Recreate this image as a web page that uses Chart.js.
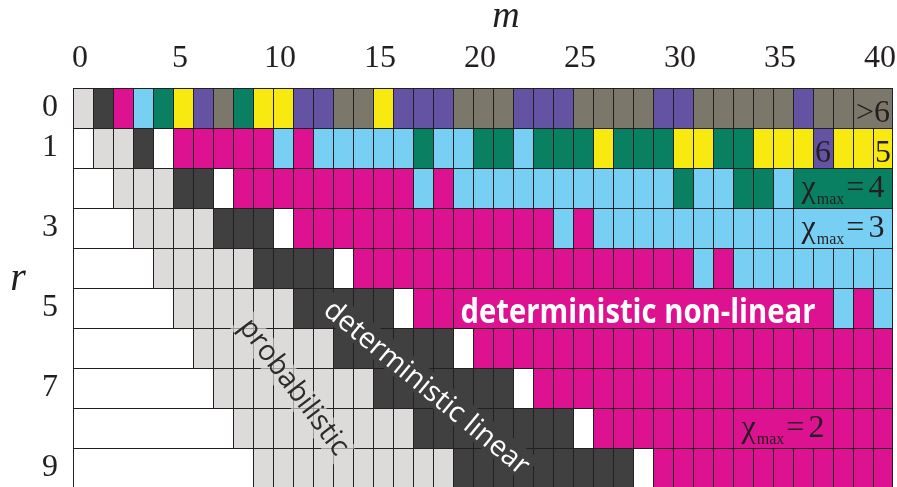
<!DOCTYPE html>
<html>
<head>
<meta charset="utf-8">
<title>Regimes over m and r</title>
<script src="https://cdn.jsdelivr.net/npm/chart.js@4.4.1/dist/chart.umd.min.js"></script>
<style>
  html, body { margin: 0; padding: 0; overflow: hidden; background: #ffffff; }
  canvas { display: block; }
</style>
</head>
<body>
<canvas id="regimeChart" width="897" height="488"></canvas>
<script>
// rows r = 0..9, columns m = 0..40
const rowLabels = ['0', '1', '2', '3', '4', '5', '6', '7', '8', '9'];
const shownRowLabels = ['0', '1', '3', '5', '7', '9'];
const mTicks = [0, 5, 10, 15, 20, 25, 30, 35, 40];

// one letter per cell, in chunks of ten columns
// P probabilistic, L deterministic linear, 2..6 chi_max, X chi_max > 6, W empty
const row0 = 'PL23456X45' + '566XX5666X' + 'XX666XXXX6' + '6XXXXX6XXX' + 'X';
const row1 = 'WPPLW22222' + '3233333433' + '4434445444' + '5544555655' + '5';
const row2 = 'WWPPPLLW22' + '2222222323' + '3333333333' + '4334434444' + '4';
const row3 = 'WWWPPPPLLL' + 'W222222222' + '2222323333' + '3333333333' + '3';
const row4 = 'WWWWPPPPPL' + 'LLLW222222' + '2222222222' + '2323333333' + '3';
const row5 = 'WWWWWPPPPP' + 'PLLLLLW222' + '2222222222' + '2222222232' + '3';
const row6 = 'WWWWWWPPPP' + 'PPPLLLLLLW' + '2222222222' + '2222222222' + '2';
const row7 = 'WWWWWWWPPP' + 'PPPPPLLLLL' + 'LLW2222222' + '2222222222' + '2';
const row8 = 'WWWWWWWWPP' + 'PPPPPPPLLL' + 'LLLLLW2222' + '2222222222' + '2';
const row9 = 'WWWWWWWWWP' + 'PPPPPPPPPL' + 'LLLLLLLLW2' + '2222222222' + '2';
const cellRows = [row0, row1, row2, row3, row4, row5, row6, row7, row8, row9];

const classKeys = ['P', 'L', '2', '3', '4', '5', '6', 'X', 'W'];
const classNames = ['probabilistic', 'deterministic linear', 'χmax = 2', 'χmax = 3',
  'χmax = 4', 'χmax = 5', 'χmax = 6', 'χmax > 6', 'none'];
const classColors = ['#dcdbda', '#404040', '#dd1290', '#78cff4', '#0a8062',
  '#f8ea10', '#6353a2', '#7b786b', '#ffffff'];

// merged / labelled cells
const cellLabels = [
  { r: 0, from: 39, to: 40, kind: 'num', text: '>6' },
  { r: 1, from: 37, to: 37, kind: 'num', text: '6' },
  { r: 1, from: 40, to: 40, kind: 'num', text: '5' },
  { r: 2, from: 36, to: 40, kind: 'chi', text: '4' },
  { r: 3, from: 36, to: 40, kind: 'chi', text: '3' },
  { r: 5, from: 19, to: 37, kind: 'bold', text: 'deterministic non-linear' },
  { r: 8, from: 33, to: 37, kind: 'chi', text: '2' }
];

// split rows into cells, joining empty runs and labelled spans
const segments = [];
cellRows.forEach((codes, r) => {
  let m = 0;
  while (m < codes.length) {
    const lab = cellLabels.find(l => l.r === r && l.from === m);
    let end = m;
    if (lab) end = lab.to;
    else if (codes[m] === 'W') {
      while (end + 1 < codes.length && codes[end + 1] === 'W') end++;
    }
    segments.push({ r, from: m, to: end, key: codes[m] });
    m = end + 1;
  }
});

const datasets = classKeys.map((key, k) => ({
  label: classNames[k],
  data: segments.filter(s => s.key === key).map(s => ({
    x: [s.from - 0.5, s.to + 0.5], y: rowLabels[s.r], last: s.to === 40
  })),
  backgroundColor: classColors[k],
  borderColor: '#231f20',
  borderWidth: c => ({ top: 1, left: 1, bottom: 0, right: c.raw && c.raw.last ? 1 : 0 }),
  borderSkipped: false,
  inflateAmount: 0,
  barPercentage: 1,
  categoryPercentage: 1,
  grouped: false
}));

const SERIF = '"Liberation Serif", "Times New Roman", serif';
const SANS = '"Open Sans", "Noto Sans", sans-serif';

function slanted(ctx, t) {
  ctx.save();
  ctx.translate(t.cx, t.cy);
  ctx.rotate(t.angle * Math.PI / 180);
  ctx.font = t.size + 'px ' + SANS;
  const w = ctx.measureText(t.text).width;
  ctx.fillStyle = t.band;
  ctx.fillRect(-w / 2 - 4, -t.size * 0.5, w + 8, t.size);
  ctx.fillStyle = t.color;
  ctx.textAlign = 'center';
  ctx.textBaseline = 'alphabetic';
  ctx.fillText(t.text, 0, t.size * t.lift);
  ctx.restore();
}

function chiLabel(ctx, cx, base, digit) {
  const parts = [
    { t: 'χ', font: '32px ' + SERIF, dy: 0, gap: 1 },
    { t: 'max', font: '16px ' + SERIF, dy: 7, gap: 2 },
    { t: '=', font: '32px ' + SERIF, dy: 0, gap: 4 },
    { t: digit, font: '32px ' + SERIF, dy: 0, gap: 0 }
  ];
  let total = 0;
  parts.forEach(p => { ctx.font = p.font; p.w = ctx.measureText(p.t).width; total += p.w + p.gap; });
  let xPos = cx - total / 2;
  ctx.textAlign = 'left';
  ctx.textBaseline = 'alphabetic';
  parts.forEach(p => {
    ctx.font = p.font;
    ctx.fillText(p.t, xPos, base + p.dy);
    xPos += p.w + p.gap;
  });
}

const annotate = {
  id: 'annotate',
  afterDatasetsDraw(chart) {
    const { ctx, scales: { x, y } } = chart;
    const px = v => x.getPixelForValue(v);
    const py = v => y.getPixelForValue(v);

    slanted(ctx, { text: 'probabilistic', cx: px(10.5), cy: py(6.99), angle: 53,
      size: 28.5, color: '#2b2b2b', band: 'rgba(220,219,218,0.65)', lift: 0.26 });
    slanted(ctx, { text: 'deterministic linear', cx: px(17.25), cy: py(6.95), angle: 39.5,
      size: 28.5, color: '#ffffff', band: '#404040', lift: 0.38 });

    ctx.save();
    ctx.fillStyle = '#231f20';
    cellLabels.forEach(l => {
      const left = px(l.from - 0.5), right = px(l.to + 0.5), top = py(l.r - 0.5);
      const cx = (left + right) / 2;
      if (l.kind === 'num') {
        ctx.font = '32px ' + SERIF;
        ctx.textAlign = 'center';
        ctx.textBaseline = 'alphabetic';
        ctx.fillText(l.text, cx, top + 34);
      } else if (l.kind === 'chi') {
        chiLabel(ctx, cx, top + 28.5, l.text);
      } else {
        ctx.save();
        ctx.font = 'bold 34px ' + SANS;
        const w = ctx.measureText(l.text).width;
        const target = right - left - 25;
        ctx.translate(cx - 5, top + 34.5);
        ctx.scale(target / w, 1);
        ctx.fillStyle = '#ffffff';
        ctx.textAlign = 'center';
        ctx.textBaseline = 'alphabetic';
        ctx.fillText(l.text, 0, 0);
        ctx.restore();
      }
    });

    // axis titles
    ctx.font = 'italic 38px ' + SERIF;
    ctx.textAlign = 'center';
    ctx.textBaseline = 'alphabetic';
    ctx.fillText('m', 506, 27);
    ctx.font = 'italic 40px ' + SERIF;
    ctx.fillText('r', 18, 290);
    ctx.restore();
  }
};

new Chart(document.getElementById('regimeChart'), {
  type: 'bar',
  data: { labels: rowLabels, datasets },
  options: {
    indexAxis: 'y',
    responsive: false,
    animation: false,
    layout: { padding: { left: 0, right: 4, top: 0, bottom: 0 } },
    plugins: { legend: { display: false } },
    scales: {
      x: {
        type: 'linear',
        position: 'top',
        min: -0.5,
        max: 40.5,
        grid: { display: false, drawTicks: false },
        border: { display: false },
        afterBuildTicks: axis => { axis.ticks = mTicks.map(v => ({ value: v })); },
        ticks: {
          autoSkip: false,
          maxRotation: 0,
          padding: 10,
          labelOffset: -3,
          color: '#231f20',
          font: { family: SERIF, size: 32 }
        },
        afterFit: axis => { axis.height = 88; axis.paddingLeft = 0; axis.paddingRight = 0; }
      },
      y: {
        type: 'category',
        position: 'left',
        offset: true,
        grid: { display: false, drawTicks: false },
        border: { display: false },
        ticks: {
          autoSkip: false,
          padding: 15,
          color: '#231f20',
          font: { family: SERIF, size: 32 },
          callback: function (value) {
            const lab = this.getLabelForValue(value);
            return shownRowLabels.includes(lab) ? lab : '';
          }
        },
        afterFit: axis => { axis.width = 73; axis.paddingTop = 0; axis.paddingBottom = 0; }
      }
    }
  },
  plugins: [annotate]
});
</script>
</body>
</html>
